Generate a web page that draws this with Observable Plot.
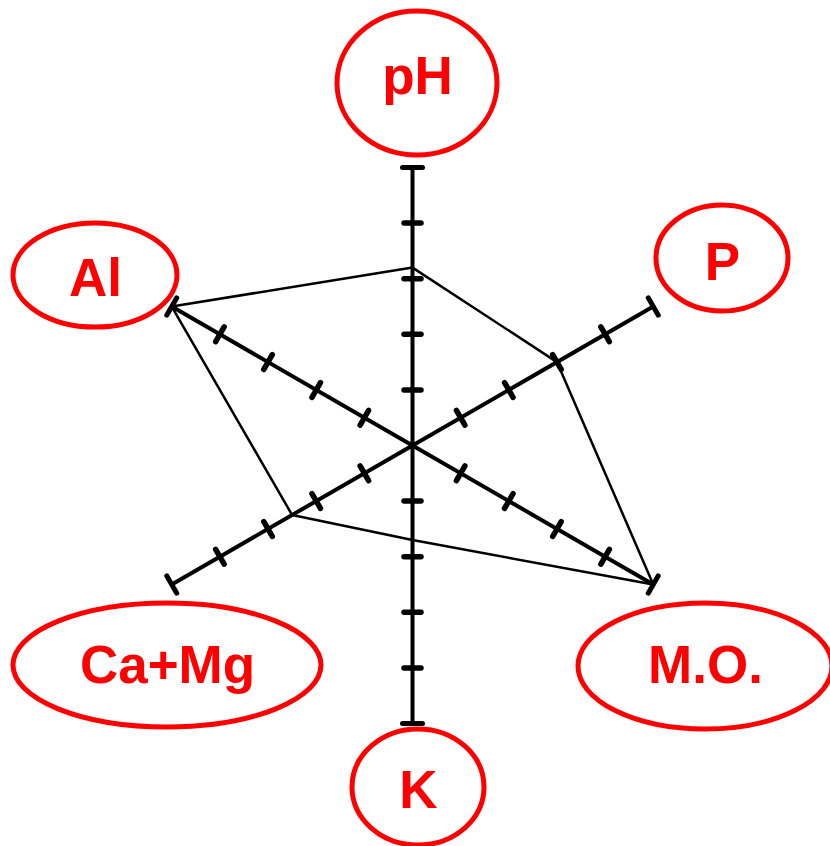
<!DOCTYPE html>
<html>
<head>
<meta charset="utf-8">
<script src="https://cdn.jsdelivr.net/npm/d3@7"></script>
<script src="https://cdn.jsdelivr.net/npm/@observablehq/plot@0.6"></script>
<style>
  html, body { margin: 0; padding: 0; background: #fff; }
  #chart svg { display: block; background: #fff; }
</style>
</head>
<body>
<div id="chart"></div>
<script>
// ---- data ----
const categories = ["pH", "P", "M.O.", "K", "Ca+Mg", "Al"];
const values = [3.2, 3.0, 5, 1.7, 2.5, 5];
const axisMax = 5;
const tickValues = [1, 2, 3, 4];

// ---- layout (pixels) ----
const W = 830, H = 846;
const CX = 412, CY = 445;      // pixel centre of the star
const U = 55.6;                // pixels per unit
const labelLayout = {
  "pH":    {cx: 417, cy: 83,  rx: 80,  ry: 72, ty: 77},
  "P":     {cx: 722, cy: 258, rx: 66,  ry: 53, ty: 263},
  "M.O.":  {cx: 705, cy: 666, rx: 127, ry: 63, ty: 666},
  "K":     {cx: 418, cy: 787, rx: 66,  ry: 58, ty: 791},
  "Ca+Mg": {cx: 167, cy: 665, rx: 154, ry: 62, ty: 666},
  "Al":    {cx: 95,  cy: 275, rx: 82,  ry: 52, ty: 279}
};
const toX = px => (px - CX) / U;
const toY = py => (CY - py) / U;

const angle = i => (90 - i * 60) * Math.PI / 180;
const axes = categories.map((c, i) => ({c, a: angle(i)}));

// tick bars perpendicular to each axis
const tickHalf = 8.5 / U, capHalf = 10 / U;
const ticks = [];
axes.forEach(({c, a}) => {
  tickValues.forEach(t => {
    const x = t * Math.cos(a), y = t * Math.sin(a);
    const px = -Math.sin(a) * tickHalf, py = Math.cos(a) * tickHalf;
    ticks.push({x1: x - px, y1: y - py, x2: x + px, y2: y + py});
  });
});
const caps = axes.map(({a}) => {
  const x = axisMax * Math.cos(a), y = axisMax * Math.sin(a);
  const px = -Math.sin(a) * capHalf, py = Math.cos(a) * capHalf;
  return {x1: x - px, y1: y - py, x2: x + px, y2: y + py};
});

const poly = categories.map((c, i) => ({
  c, x: values[i] * Math.cos(angle(i)), y: values[i] * Math.sin(angle(i))
}));
poly.push(poly[0]);

const labels = categories.map(c => ({c, ...labelLayout[c]}));

function ellipseMark(index, scales) {
  const g = d3.create("svg:g");
  labels.forEach(l => {
    g.append("ellipse")
      .attr("cx", scales.x(toX(l.cx)))
      .attr("cy", scales.y(toY(l.cy)))
      .attr("rx", l.rx).attr("ry", l.ry)
      .attr("fill", "none").attr("stroke", "#ff0000").attr("stroke-width", 5);
  });
  return g.node();
}

const chart = Plot.plot({
  width: W, height: H,
  margin: 0,
  x: {domain: [toX(0), toX(W)], range: [0, W], axis: null},
  y: {domain: [toY(H), toY(0)], range: [H, 0], axis: null},
  style: {background: "#fff"},
  marks: [
    Plot.link(axes, {
      x1: 0, y1: 0,
      x2: d => axisMax * Math.cos(d.a), y2: d => axisMax * Math.sin(d.a),
      stroke: "#000", strokeWidth: 4
    }),
    Plot.link(ticks, {x1: "x1", y1: "y1", x2: "x2", y2: "y2",
      stroke: "#000", strokeWidth: 5.5, strokeLinecap: "round"}),
    Plot.link(caps, {x1: "x1", y1: "y1", x2: "x2", y2: "y2",
      stroke: "#000", strokeWidth: 5, strokeLinecap: "round"}),
    Plot.line(poly, {x: "x", y: "y", stroke: "#000", strokeWidth: 2.5, curve: "linear"}),
    ellipseMark,
    Plot.text(labels, {
      x: d => toX(d.cx), y: d => toY(d.ty), text: "c",
      fill: "#ff0000", fontSize: 53, fontWeight: "bold",
      fontFamily: "'Liberation Sans', Arial, sans-serif"
    })
  ]
});
document.getElementById("chart").appendChild(chart);
</script>
</body>
</html>
